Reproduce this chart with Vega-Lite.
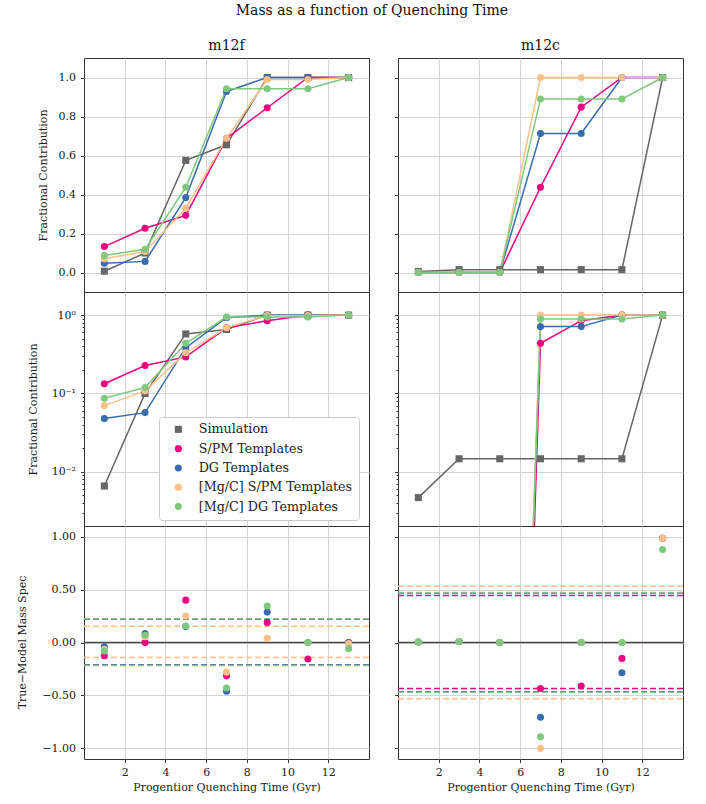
{
  "$schema": "https://vega.github.io/schema/vega-lite/v6.json",
  "padding": {"left": 15, "top": 3, "right": 23, "bottom": 6},
  "autosize": {"type": "pad"},
  "title": {"text": "Mass as a function of Quenching Time", "fontSize": 14, "font": "DejaVu Serif", "fontWeight": "normal", "color": "#111", "anchor": "middle", "offset": 21, "dx": 22},
  "config": {
    "font": "DejaVu Serif",
    "view": {"stroke": "#333", "strokeWidth": 1},
    "axis": {"labelFont": "DejaVu Serif", "labelFontSize": 11, "labelColor": "#222", "titleFont": "DejaVu Serif", "titleFontSize": 11, "titleFontWeight": "normal", "titleColor": "#222", "gridColor": "#d3d3d3", "gridWidth": 1, "tickColor": "#333", "tickSize": 3.5, "domain": false, "labelPadding": 5, "labelOverlap": false},
    "title": {"font": "DejaVu Serif", "fontWeight": "normal", "fontSize": 14, "color": "#111"}
  },
  "datasets": {
    "frac": [
      {"h": "m12f", "s": "Simulation", "t": 1, "y": 0.0066},
      {"h": "m12f", "s": "Simulation", "t": 3, "y": 0.100},
      {"h": "m12f", "s": "Simulation", "t": 5, "y": 0.575},
      {"h": "m12f", "s": "Simulation", "t": 7, "y": 0.655},
      {"h": "m12f", "s": "Simulation", "t": 9, "y": 1.0},
      {"h": "m12f", "s": "Simulation", "t": 11, "y": 1.0},
      {"h": "m12f", "s": "Simulation", "t": 13, "y": 1.0},
      {"h": "m12f", "s": "S/PM Templates", "t": 1, "y": 0.133},
      {"h": "m12f", "s": "S/PM Templates", "t": 3, "y": 0.227},
      {"h": "m12f", "s": "S/PM Templates", "t": 5, "y": 0.293},
      {"h": "m12f", "s": "S/PM Templates", "t": 7, "y": 0.688},
      {"h": "m12f", "s": "S/PM Templates", "t": 9, "y": 0.845},
      {"h": "m12f", "s": "S/PM Templates", "t": 11, "y": 1.0},
      {"h": "m12f", "s": "S/PM Templates", "t": 13, "y": 1.0},
      {"h": "m12f", "s": "DG Templates", "t": 1, "y": 0.048},
      {"h": "m12f", "s": "DG Templates", "t": 3, "y": 0.057},
      {"h": "m12f", "s": "DG Templates", "t": 5, "y": 0.384},
      {"h": "m12f", "s": "DG Templates", "t": 7, "y": 0.928},
      {"h": "m12f", "s": "DG Templates", "t": 9, "y": 1.0},
      {"h": "m12f", "s": "DG Templates", "t": 11, "y": 1.0},
      {"h": "m12f", "s": "DG Templates", "t": 13, "y": 1.0},
      {"h": "m12f", "s": "[Mg/C] S/PM Templates", "t": 1, "y": 0.070},
      {"h": "m12f", "s": "[Mg/C] S/PM Templates", "t": 3, "y": 0.108},
      {"h": "m12f", "s": "[Mg/C] S/PM Templates", "t": 5, "y": 0.330},
      {"h": "m12f", "s": "[Mg/C] S/PM Templates", "t": 7, "y": 0.688},
      {"h": "m12f", "s": "[Mg/C] S/PM Templates", "t": 9, "y": 0.99},
      {"h": "m12f", "s": "[Mg/C] S/PM Templates", "t": 11, "y": 0.99},
      {"h": "m12f", "s": "[Mg/C] S/PM Templates", "t": 13, "y": 1.0},
      {"h": "m12f", "s": "[Mg/C] DG Templates", "t": 1, "y": 0.087},
      {"h": "m12f", "s": "[Mg/C] DG Templates", "t": 3, "y": 0.119},
      {"h": "m12f", "s": "[Mg/C] DG Templates", "t": 5, "y": 0.437},
      {"h": "m12f", "s": "[Mg/C] DG Templates", "t": 7, "y": 0.942},
      {"h": "m12f", "s": "[Mg/C] DG Templates", "t": 9, "y": 0.942},
      {"h": "m12f", "s": "[Mg/C] DG Templates", "t": 11, "y": 0.942},
      {"h": "m12f", "s": "[Mg/C] DG Templates", "t": 13, "y": 1.0},
      {"h": "m12c", "s": "Simulation", "t": 1, "y": 0.0047},
      {"h": "m12c", "s": "Simulation", "t": 3, "y": 0.0147},
      {"h": "m12c", "s": "Simulation", "t": 5, "y": 0.0147},
      {"h": "m12c", "s": "Simulation", "t": 7, "y": 0.0147},
      {"h": "m12c", "s": "Simulation", "t": 9, "y": 0.0147},
      {"h": "m12c", "s": "Simulation", "t": 11, "y": 0.0147},
      {"h": "m12c", "s": "Simulation", "t": 13, "y": 1.0},
      {"h": "m12c", "s": "S/PM Templates", "t": 1, "y": 1e-16},
      {"h": "m12c", "s": "S/PM Templates", "t": 3, "y": 1e-16},
      {"h": "m12c", "s": "S/PM Templates", "t": 5, "y": 1e-16},
      {"h": "m12c", "s": "S/PM Templates", "t": 7, "y": 0.437},
      {"h": "m12c", "s": "S/PM Templates", "t": 9, "y": 0.848},
      {"h": "m12c", "s": "S/PM Templates", "t": 11, "y": 1.0},
      {"h": "m12c", "s": "S/PM Templates", "t": 13, "y": 1.0},
      {"h": "m12c", "s": "DG Templates", "t": 1, "y": 1e-15},
      {"h": "m12c", "s": "DG Templates", "t": 3, "y": 1e-15},
      {"h": "m12c", "s": "DG Templates", "t": 5, "y": 1e-15},
      {"h": "m12c", "s": "DG Templates", "t": 7, "y": 0.713},
      {"h": "m12c", "s": "DG Templates", "t": 9, "y": 0.713},
      {"h": "m12c", "s": "DG Templates", "t": 11, "y": 1.0},
      {"h": "m12c", "s": "DG Templates", "t": 13, "y": 1.0},
      {"h": "m12c", "s": "[Mg/C] S/PM Templates", "t": 1, "y": 1e-15},
      {"h": "m12c", "s": "[Mg/C] S/PM Templates", "t": 3, "y": 1e-15},
      {"h": "m12c", "s": "[Mg/C] S/PM Templates", "t": 5, "y": 1e-15},
      {"h": "m12c", "s": "[Mg/C] S/PM Templates", "t": 7, "y": 1.0},
      {"h": "m12c", "s": "[Mg/C] S/PM Templates", "t": 9, "y": 1.0},
      {"h": "m12c", "s": "[Mg/C] S/PM Templates", "t": 11, "y": 1.0},
      {"h": "m12c", "s": "[Mg/C] S/PM Templates", "t": 13, "y": 1.0},
      {"h": "m12c", "s": "[Mg/C] DG Templates", "t": 1, "y": 1e-15},
      {"h": "m12c", "s": "[Mg/C] DG Templates", "t": 3, "y": 1e-15},
      {"h": "m12c", "s": "[Mg/C] DG Templates", "t": 5, "y": 1e-15},
      {"h": "m12c", "s": "[Mg/C] DG Templates", "t": 7, "y": 0.890},
      {"h": "m12c", "s": "[Mg/C] DG Templates", "t": 9, "y": 0.890},
      {"h": "m12c", "s": "[Mg/C] DG Templates", "t": 11, "y": 0.890},
      {"h": "m12c", "s": "[Mg/C] DG Templates", "t": 13, "y": 1.0}
    ],
    "resid": [
      {"h": "m12f", "s": "S/PM Templates", "t": 1, "r": -0.125},
      {"h": "m12f", "s": "S/PM Templates", "t": 3, "r": 0.0},
      {"h": "m12f", "s": "S/PM Templates", "t": 5, "r": 0.40},
      {"h": "m12f", "s": "S/PM Templates", "t": 7, "r": -0.315},
      {"h": "m12f", "s": "S/PM Templates", "t": 9, "r": 0.19},
      {"h": "m12f", "s": "S/PM Templates", "t": 11, "r": -0.155},
      {"h": "m12f", "s": "S/PM Templates", "t": 13, "r": 0.0},
      {"h": "m12f", "s": "DG Templates", "t": 1, "r": -0.04},
      {"h": "m12f", "s": "DG Templates", "t": 3, "r": 0.085},
      {"h": "m12f", "s": "DG Templates", "t": 5, "r": 0.15},
      {"h": "m12f", "s": "DG Templates", "t": 7, "r": -0.46},
      {"h": "m12f", "s": "DG Templates", "t": 9, "r": 0.287},
      {"h": "m12f", "s": "DG Templates", "t": 11, "r": 0.0},
      {"h": "m12f", "s": "DG Templates", "t": 13, "r": 0.0},
      {"h": "m12f", "s": "[Mg/C] S/PM Templates", "t": 1, "r": -0.063},
      {"h": "m12f", "s": "[Mg/C] S/PM Templates", "t": 3, "r": 0.055},
      {"h": "m12f", "s": "[Mg/C] S/PM Templates", "t": 5, "r": 0.25},
      {"h": "m12f", "s": "[Mg/C] S/PM Templates", "t": 7, "r": -0.28},
      {"h": "m12f", "s": "[Mg/C] S/PM Templates", "t": 9, "r": 0.04},
      {"h": "m12f", "s": "[Mg/C] S/PM Templates", "t": 11, "r": 0.0},
      {"h": "m12f", "s": "[Mg/C] S/PM Templates", "t": 13, "r": -0.01},
      {"h": "m12f", "s": "[Mg/C] DG Templates", "t": 1, "r": -0.08},
      {"h": "m12f", "s": "[Mg/C] DG Templates", "t": 3, "r": 0.068},
      {"h": "m12f", "s": "[Mg/C] DG Templates", "t": 5, "r": 0.155},
      {"h": "m12f", "s": "[Mg/C] DG Templates", "t": 7, "r": -0.43},
      {"h": "m12f", "s": "[Mg/C] DG Templates", "t": 9, "r": 0.345},
      {"h": "m12f", "s": "[Mg/C] DG Templates", "t": 11, "r": 0.0},
      {"h": "m12f", "s": "[Mg/C] DG Templates", "t": 13, "r": -0.058},
      {"h": "m12c", "s": "S/PM Templates", "t": 1, "r": 0.005},
      {"h": "m12c", "s": "S/PM Templates", "t": 3, "r": 0.01},
      {"h": "m12c", "s": "S/PM Templates", "t": 5, "r": 0.0},
      {"h": "m12c", "s": "S/PM Templates", "t": 7, "r": -0.435},
      {"h": "m12c", "s": "S/PM Templates", "t": 9, "r": -0.41},
      {"h": "m12c", "s": "S/PM Templates", "t": 11, "r": -0.15},
      {"h": "m12c", "s": "S/PM Templates", "t": 13, "r": 0.985},
      {"h": "m12c", "s": "DG Templates", "t": 1, "r": 0.005},
      {"h": "m12c", "s": "DG Templates", "t": 3, "r": 0.01},
      {"h": "m12c", "s": "DG Templates", "t": 5, "r": 0.0},
      {"h": "m12c", "s": "DG Templates", "t": 7, "r": -0.705},
      {"h": "m12c", "s": "DG Templates", "t": 9, "r": 0.0},
      {"h": "m12c", "s": "DG Templates", "t": 11, "r": -0.285},
      {"h": "m12c", "s": "DG Templates", "t": 13, "r": 0.985},
      {"h": "m12c", "s": "[Mg/C] S/PM Templates", "t": 1, "r": 0.005},
      {"h": "m12c", "s": "[Mg/C] S/PM Templates", "t": 3, "r": 0.01},
      {"h": "m12c", "s": "[Mg/C] S/PM Templates", "t": 5, "r": 0.0},
      {"h": "m12c", "s": "[Mg/C] S/PM Templates", "t": 7, "r": -1.0},
      {"h": "m12c", "s": "[Mg/C] S/PM Templates", "t": 9, "r": 0.0},
      {"h": "m12c", "s": "[Mg/C] S/PM Templates", "t": 11, "r": 0.0},
      {"h": "m12c", "s": "[Mg/C] S/PM Templates", "t": 13, "r": 0.985},
      {"h": "m12c", "s": "[Mg/C] DG Templates", "t": 1, "r": 0.005},
      {"h": "m12c", "s": "[Mg/C] DG Templates", "t": 3, "r": 0.01},
      {"h": "m12c", "s": "[Mg/C] DG Templates", "t": 5, "r": 0.0},
      {"h": "m12c", "s": "[Mg/C] DG Templates", "t": 7, "r": -0.89},
      {"h": "m12c", "s": "[Mg/C] DG Templates", "t": 9, "r": 0.0},
      {"h": "m12c", "s": "[Mg/C] DG Templates", "t": 11, "r": 0.0},
      {"h": "m12c", "s": "[Mg/C] DG Templates", "t": 13, "r": 0.877}
    ],
    "bands": [
      {"h": "m12f", "s": "S/PM Templates", "v": 0.222},
      {"h": "m12f", "s": "S/PM Templates", "v": -0.212},
      {"h": "m12f", "s": "DG Templates", "v": 0.221},
      {"h": "m12f", "s": "DG Templates", "v": -0.212},
      {"h": "m12f", "s": "[Mg/C] S/PM Templates", "v": 0.153},
      {"h": "m12f", "s": "[Mg/C] S/PM Templates", "v": -0.141},
      {"h": "m12f", "s": "[Mg/C] DG Templates", "v": 0.224},
      {"h": "m12f", "s": "[Mg/C] DG Templates", "v": -0.216},
      {"h": "m12c", "s": "S/PM Templates", "v": 0.443},
      {"h": "m12c", "s": "S/PM Templates", "v": -0.435},
      {"h": "m12c", "s": "DG Templates", "v": 0.468},
      {"h": "m12c", "s": "DG Templates", "v": -0.466},
      {"h": "m12c", "s": "[Mg/C] S/PM Templates", "v": 0.531},
      {"h": "m12c", "s": "[Mg/C] S/PM Templates", "v": -0.530},
      {"h": "m12c", "s": "[Mg/C] DG Templates", "v": 0.473},
      {"h": "m12c", "s": "[Mg/C] DG Templates", "v": -0.470}
    ]
  },
  "columns": 2,
  "bounds": "flush",
  "spacing": {"row": 0, "column": 29},
  "resolve": {"scale": {"x": "independent", "y": "independent"}, "legend": {"color": "independent", "shape": "independent", "stroke": "independent"}},
  "concat": [
    {
      "width": 285, "height": 234,
      "title": {"text": "m12f", "fontSize": 14, "offset": 5},
      "layer": [
        {
          "data": {"name": "frac"}, "transform": [{"filter": "datum.h === 'm12f'"}],
          "mark": {"type": "line", "strokeWidth": 1.5, "clip": true},
          "encoding": {
            "x": {"field": "t", "type": "quantitative", "scale": {"domain": [0, 14], "nice": false}, "axis": {"values": [2,4,6,8,10,12], "grid": true, "labels": false, "ticks": false, "title": null}},
            "y": {"field": "y", "type": "quantitative", "scale": {"domain": [-0.1, 1.1], "nice": false, "zero": false}, "axis": {"values": [0,0.2,0.4,0.6,0.8,1.0], "format": ".1f", "title": "Fractional Contribution", "titleX": -38, "titleY": 117, "titleBaseline": "alphabetic"}},
            "stroke": {"field": "s", "type": "nominal", "scale": {"domain": ["[Mg/C] DG Templates", "[Mg/C] S/PM Templates", "DG Templates", "S/PM Templates", "Simulation"], "range": ["#7fc97f", "#fdc086", "#386cb0", "#f0027f", "#666666"]}, "legend": null}
          }
        },
        {
          "data": {"name": "frac"}, "transform": [{"filter": "datum.h === 'm12f'"}],
          "mark": {"type": "point", "filled": true, "opacity": 1, "size": 50, "clip": true},
          "encoding": {
            "x": {"field": "t", "type": "quantitative"},
            "y": {"field": "y", "type": "quantitative"},
            "color": {"field": "s", "type": "nominal", "scale": {"domain": ["Simulation", "S/PM Templates", "DG Templates", "[Mg/C] S/PM Templates", "[Mg/C] DG Templates"], "range": ["#666666", "#f0027f", "#386cb0", "#fdc086", "#7fc97f"]}, "legend": null},
            "shape": {"field": "s", "type": "nominal", "scale": {"domain": ["Simulation", "S/PM Templates", "DG Templates", "[Mg/C] S/PM Templates", "[Mg/C] DG Templates"], "range": ["square", "circle", "circle", "circle", "circle"]}, "legend": null}
          }
        }
      ]
    },
    {
      "width": 285, "height": 234,
      "title": {"text": "m12c", "fontSize": 14, "offset": 5},
      "layer": [
        {
          "data": {"name": "frac"}, "transform": [{"filter": "datum.h === 'm12c'"}],
          "mark": {"type": "line", "strokeWidth": 1.5, "clip": true},
          "encoding": {
            "x": {"field": "t", "type": "quantitative", "scale": {"domain": [0, 14], "nice": false}, "axis": {"values": [2,4,6,8,10,12], "grid": true, "labels": false, "ticks": false, "title": null}},
            "y": {"field": "y", "type": "quantitative", "scale": {"domain": [-0.1, 1.1], "nice": false, "zero": false}, "axis": {"values": [0,0.2,0.4,0.6,0.8,1.0], "labels": false, "title": null}},
            "stroke": {"field": "s", "type": "nominal", "legend": null}
          }
        },
        {
          "data": {"name": "frac"}, "transform": [{"filter": "datum.h === 'm12c'"}],
          "mark": {"type": "point", "filled": true, "opacity": 1, "size": 50, "clip": true},
          "encoding": {
            "x": {"field": "t", "type": "quantitative"},
            "y": {"field": "y", "type": "quantitative"},
            "color": {"field": "s", "type": "nominal", "legend": null},
            "shape": {"field": "s", "type": "nominal", "legend": null}
          }
        }
      ]
    },
    {
      "width": 285, "height": 234,
      "layer": [
        {
          "data": {"name": "frac"}, "transform": [{"filter": "datum.h === 'm12f'"}],
          "mark": {"type": "line", "strokeWidth": 1.5, "clip": true},
          "encoding": {
            "x": {"field": "t", "type": "quantitative", "scale": {"domain": [0, 14], "nice": false}, "axis": {"values": [2,4,6,8,10,12], "grid": true, "labels": false, "ticks": false, "title": null}},
            "y": {"field": "y", "type": "quantitative", "scale": {"type": "log", "domain": [0.00204, 1.97], "nice": false}, "axis": {"values": [0.003,0.004,0.005,0.006,0.007,0.008,0.009,0.01,0.02,0.03,0.04,0.05,0.06,0.07,0.08,0.09,0.1,0.2,0.3,0.4,0.5,0.6,0.7,0.8,0.9,1], "labelExpr": "datum.value == 1 ? '10⁰' : datum.value == 0.1 ? '10⁻¹' : datum.value == 0.01 ? '10⁻²' : ''", "tickSize": {"condition": {"test": "datum.value == 1 || datum.value == 0.1 || datum.value == 0.01", "value": 3.5}, "value": 2}, "gridOpacity": {"condition": {"test": "datum.value == 1 || datum.value == 0.1 || datum.value == 0.01", "value": 1}, "value": 0}, "title": "Fractional Contribution", "titleX": -48, "titleY": 117, "titleBaseline": "alphabetic"}},
            "stroke": {"field": "s", "type": "nominal", "legend": null}
          }
        },
        {
          "data": {"name": "frac"}, "transform": [{"filter": "datum.h === 'm12f'"}],
          "mark": {"type": "point", "filled": true, "opacity": 1, "size": 50, "clip": true},
          "encoding": {
            "x": {"field": "t", "type": "quantitative"},
            "y": {"field": "y", "type": "quantitative"},
            "color": {"field": "s", "type": "nominal", "legend": {"title": null, "orient": "none", "legendX": 75, "legendY": 125, "fillColor": "white", "strokeColor": "#cccccc", "cornerRadius": 3, "padding": 6, "labelFont": "DejaVu Serif", "labelFontSize": 12.7, "labelColor": "#222", "symbolSize": 50, "symbolStrokeWidth": 0, "symbolOpacity": 1, "rowPadding": 5.3, "labelOffset": 14, "symbolOffset": 7, "labelLimit": 300}},
            "shape": {"field": "s", "type": "nominal", "legend": {"title": null, "orient": "none", "legendX": 75, "legendY": 125, "fillColor": "white", "strokeColor": "#cccccc", "cornerRadius": 3, "padding": 6, "labelFont": "DejaVu Serif", "labelFontSize": 12.7, "labelColor": "#222", "symbolSize": 50, "symbolStrokeWidth": 0, "symbolOpacity": 1, "rowPadding": 5.3, "labelOffset": 14, "symbolOffset": 7, "labelLimit": 300}}
          }
        }
      ]
    },
    {
      "width": 285, "height": 234,
      "layer": [
        {
          "data": {"name": "frac"}, "transform": [{"filter": "datum.h === 'm12c'"}],
          "mark": {"type": "line", "strokeWidth": 1.5, "clip": true},
          "encoding": {
            "x": {"field": "t", "type": "quantitative", "scale": {"domain": [0, 14], "nice": false}, "axis": {"values": [2,4,6,8,10,12], "grid": true, "labels": false, "ticks": false, "title": null}},
            "y": {"field": "y", "type": "quantitative", "scale": {"type": "log", "domain": [0.00204, 1.97], "nice": false}, "axis": {"values": [0.003,0.004,0.005,0.006,0.007,0.008,0.009,0.01,0.02,0.03,0.04,0.05,0.06,0.07,0.08,0.09,0.1,0.2,0.3,0.4,0.5,0.6,0.7,0.8,0.9,1], "labels": false, "tickSize": {"condition": {"test": "datum.value == 1 || datum.value == 0.1 || datum.value == 0.01", "value": 3.5}, "value": 2}, "gridOpacity": {"condition": {"test": "datum.value == 1 || datum.value == 0.1 || datum.value == 0.01", "value": 1}, "value": 0}, "title": null}},
            "stroke": {"field": "s", "type": "nominal", "legend": null}
          }
        },
        {
          "data": {"name": "frac"}, "transform": [{"filter": "datum.h === 'm12c'"}],
          "mark": {"type": "point", "filled": true, "opacity": 1, "size": 50, "clip": true},
          "encoding": {
            "x": {"field": "t", "type": "quantitative"},
            "y": {"field": "y", "type": "quantitative"},
            "color": {"field": "s", "type": "nominal", "legend": null},
            "shape": {"field": "s", "type": "nominal", "legend": null}
          }
        }
      ]
    },
    {
      "width": 285, "height": 233,
      "layer": [
        {
          "data": {"name": "bands"}, "transform": [{"filter": "datum.h === 'm12f'"}],
          "mark": {"type": "rule", "strokeWidth": 1.5, "strokeDash": [6, 3], "clip": true},
          "encoding": {
            "x": {"datum": 0, "type": "quantitative", "scale": {"domain": [0, 14], "nice": false}, "axis": {"values": [2,4,6,8,10,12], "grid": true, "format": "d", "title": "Progentior Quenching Time (Gyr)", "labelPadding": 4, "titlePadding": 4}},
            "x2": {"datum": 14},
            "y": {"field": "v", "type": "quantitative", "scale": {"domain": [-1.1, 1.1], "nice": false, "zero": false}, "axis": {"values": [-1,-0.75,-0.5,-0.25,0,0.25,0.5,0.75,1], "format": ".2f", "title": "True−Model Mass Spec", "titleX": -59, "titleY": 116, "titleBaseline": "alphabetic"}},
            "stroke": {"field": "s", "type": "nominal", "legend": null}
          }
        },
        {
          "data": {"values": [{"z": 0}]},
          "mark": {"type": "rule", "strokeWidth": 1.5, "color": "#4a4a4a"},
          "encoding": {"y": {"field": "z", "type": "quantitative"}}
        },
        {
          "data": {"name": "resid"}, "transform": [{"filter": "datum.h === 'm12f'"}],
          "mark": {"type": "circle", "opacity": 1, "size": 50, "clip": true},
          "encoding": {
            "x": {"field": "t", "type": "quantitative"},
            "y": {"field": "r", "type": "quantitative"},
            "color": {"field": "s", "type": "nominal", "legend": null}
          }
        }
      ]
    },
    {
      "width": 285, "height": 233,
      "layer": [
        {
          "data": {"name": "bands"}, "transform": [{"filter": "datum.h === 'm12c'"}],
          "mark": {"type": "rule", "strokeWidth": 1.5, "strokeDash": [6, 3], "clip": true},
          "encoding": {
            "x": {"datum": 0, "type": "quantitative", "scale": {"domain": [0, 14], "nice": false}, "axis": {"values": [2,4,6,8,10,12], "grid": true, "format": "d", "title": "Progentior Quenching Time (Gyr)", "labelPadding": 4, "titlePadding": 4}},
            "x2": {"datum": 14},
            "y": {"field": "v", "type": "quantitative", "scale": {"domain": [-1.1, 1.1], "nice": false, "zero": false}, "axis": {"values": [-1,-0.75,-0.5,-0.25,0,0.25,0.5,0.75,1], "labels": false, "title": null}},
            "stroke": {"field": "s", "type": "nominal", "legend": null}
          }
        },
        {
          "data": {"values": [{"z": 0}]},
          "mark": {"type": "rule", "strokeWidth": 1.5, "color": "#4a4a4a"},
          "encoding": {"y": {"field": "z", "type": "quantitative"}}
        },
        {
          "data": {"name": "resid"}, "transform": [{"filter": "datum.h === 'm12c'"}],
          "mark": {"type": "circle", "opacity": 1, "size": 50, "clip": true},
          "encoding": {
            "x": {"field": "t", "type": "quantitative"},
            "y": {"field": "r", "type": "quantitative"},
            "color": {"field": "s", "type": "nominal", "legend": null}
          }
        }
      ]
    }
  ]
}
